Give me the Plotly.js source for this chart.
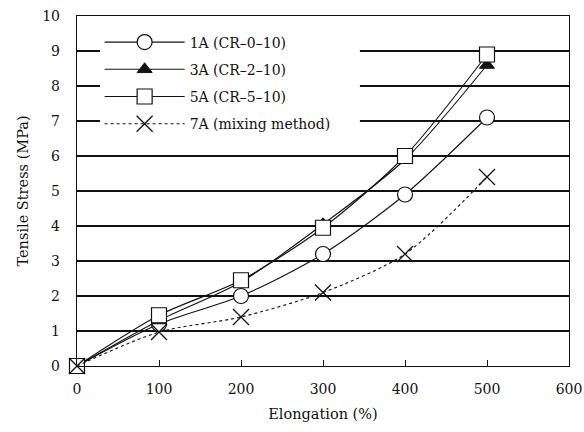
<!DOCTYPE html>
<html>
<head>
<meta charset="utf-8">
<script src="https://cdn.plot.ly/plotly-3.0.1.min.js"></script>
<style>
  html, body { margin: 0; padding: 0; background: #fff; }
  #chart { width: 584px; height: 432px; }
</style>
</head>
<body>
<div id="chart"></div>
<script>
// Elongation (%) at which tensile stress was measured
const elongation = [0, 100, 200, 300, 400, 500];

// Tensile stress (MPa) for each compound
const stress1A = [0, 1.2, 2.0, 3.2, 4.9, 7.1];
const stress3A = [0, 1.3, 2.4, 4.05, 5.9, 8.6];
const stress5A = [0, 1.45, 2.45, 3.95, 6.0, 8.9];
const stress7A = [0, 0.97, 1.4, 2.1, 3.2, 5.4];

const seriesNames = [
  '1A (CR\u20130\u201310)',
  '3A (CR\u20132\u201310)',
  '5A (CR\u20135\u201310)',
  '7A (mixing method)'
];

const xTicks = [0, 100, 200, 300, 400, 500, 600];
const yTicks = [0, 1, 2, 3, 4, 5, 6, 7, 8, 9, 10];

const serif = 'DejaVu Serif';
const ink = '#111';

function curve(y, name, marker, dash) {
  return {
    x: elongation, y: y, name: name, legendgroup: name, type: 'scatter', mode: 'lines+markers',
    line: { color: ink, width: 1.1, shape: 'spline', smoothing: 0.8, dash: dash || 'solid' },
    marker: marker, cliponaxis: false
  };
}

const traces = [
  curve(stress1A, seriesNames[0],
        { symbol: 'circle', size: 15, color: '#fff', line: { color: ink, width: 1.2 } }),
  curve(stress3A, seriesNames[1],
        { symbol: 'triangle-up', size: 13, color: ink, line: { color: ink, width: 1 } }),
  curve(stress5A, seriesNames[2],
        { symbol: 'square', size: 15, color: '#fff', line: { color: ink, width: 1.2 } }),
  curve(stress7A, seriesNames[3],
        { symbol: 'x-thin-open', size: 16, color: ink, line: { color: ink, width: 1.3 } }, 'dot')
];

const layout = {
  width: 584, height: 432,
  margin: { l: 77, r: 15, t: 16, b: 66 },
  paper_bgcolor: '#fff', plot_bgcolor: '#fff',
  font: { family: serif, size: 14, color: ink },
  showlegend: true,
  legend: {
    x: 0.046, y: 0.97, xanchor: 'left', yanchor: 'top',
    bgcolor: '#fff', borderwidth: 0,
    font: { family: serif, size: 14, color: ink },
    tracegroupgap: 6, itemwidth: 80
  },
  // blank panel behind the legend, masking the upper grid lines
  shapes: [{
    type: 'rect', xref: 'x', yref: 'y', layer: 'between',
    x0: 28, x1: 345, y0: 6.5, y1: 9.8,
    fillcolor: '#fff', line: { width: 0 }
  }],
  xaxis: {
    range: [0, 600], tickvals: xTicks, ticktext: xTicks.map(String),
    ticks: 'inside', ticklen: 6, tickcolor: ink, tickwidth: 1,
    showline: true, linecolor: ink, linewidth: 1.2, mirror: true,
    showgrid: false, zeroline: false,
    ticklabelstandoff: 10, ticklabeloverflow: 'allow',
    tickfont: { family: serif, size: 14, color: ink },
    title: { text: 'Elongation (%)', font: { family: serif, size: 14.5, color: ink }, standoff: 12 }
  },
  yaxis: {
    range: [0, 10], tickvals: yTicks, ticktext: yTicks.map(String),
    ticks: '', showline: true, linecolor: ink, linewidth: 1.2, mirror: true,
    showgrid: true, gridcolor: ink, gridwidth: 1.1, zeroline: false,
    ticklabelstandoff: 13,
    tickfont: { family: serif, size: 14, color: ink },
    title: { text: 'Tensile Stress (MPa)', font: { family: serif, size: 14.5, color: ink }, standoff: 10 }
  }
};

Plotly.newPlot('chart', traces, layout, { staticPlot: true, displayModeBar: false });
</script>
</body>
</html>
